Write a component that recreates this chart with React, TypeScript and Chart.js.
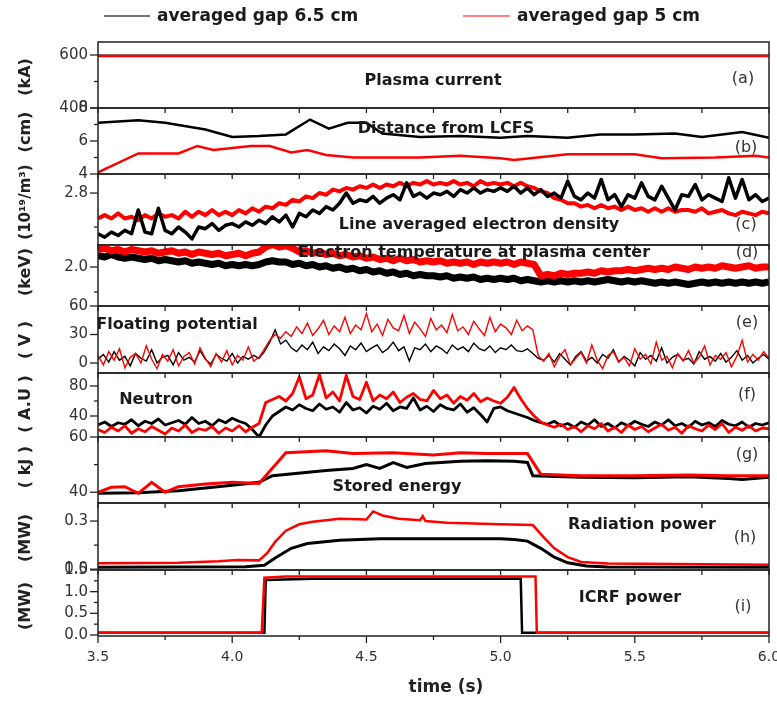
import React, { useEffect, useRef } from 'react';
import { Chart, registerables } from 'chart.js';

Chart.register(...registerables);

const FONT = '"DejaVu Sans", sans-serif';
const BLACK = '#000000';
const RED = '#ff0000';

// ---------- x axis ----------
const xMajor = [3.5, 4.0, 4.5, 5.0, 5.5, 6.0];
const xMajorLabels = ['3.5', '4.0', '4.5', '5.0', '5.5', '6.0'];
const xMinor = [3.75, 4.25, 4.75, 5.25, 5.75];
const xTitle = 'time (s)';

// sampling grids of the noisy traces
const T025 = Array.from({ length: 101 }, (_, i) => +(3.5 + i * 0.025).toFixed(3));
const T020 = Array.from({ length: 126 }, (_, i) => +(3.5 + i * 0.02).toFixed(3));

// ---------- legend ----------
const legendLabels = ['averaged gap 6.5 cm', 'averaged gap 5 cm'];

// ---------- (a) plasma current ----------
const aT = [3.5, 4.0, 4.5, 5.0, 5.5, 6.0];
const aBlack = [599, 599.5, 599, 599.5, 599, 599];
const aRed = [596, 596, 596, 596, 596, 596];

// ---------- (b) distance from LCFS ----------
const bBlackT = [3.5, 3.65, 3.75, 3.9, 4.0, 4.1, 4.2, 4.29, 4.36, 4.43, 4.5, 4.56, 4.7, 4.85, 5.0, 5.1, 5.25, 5.37, 5.5, 5.65, 5.75, 5.9, 6.0];
const bBlack = [7.1, 7.25, 7.1, 6.7, 6.25, 6.3, 6.4, 7.3, 6.75, 7.1, 7.1, 6.45, 6.25, 6.3, 6.2, 6.3, 6.2, 6.4, 6.4, 6.45, 6.25, 6.55, 6.2];
const bRedT = [3.5, 3.65, 3.8, 3.87, 3.93, 4.07, 4.14, 4.22, 4.28, 4.35, 4.45, 4.7, 4.85, 5.0, 5.05, 5.25, 5.5, 5.6, 5.8, 5.95, 6.0];
const bRed = [4.1, 5.25, 5.25, 5.7, 5.45, 5.7, 5.7, 5.3, 5.45, 5.15, 5.0, 5.0, 5.1, 4.95, 4.85, 5.2, 5.2, 4.95, 5.0, 5.1, 5.0];

// ---------- (c) line averaged density (on T025) ----------
const cRed = [
  2.65, 2.67, 2.65, 2.68, 2.65, 2.66, 2.64, 2.67, 2.65, 2.68,
  2.66, 2.67, 2.65, 2.69, 2.66, 2.69, 2.67, 2.70, 2.67, 2.69,
  2.67, 2.70, 2.68, 2.71, 2.69, 2.72, 2.71, 2.74, 2.73, 2.76,
  2.75, 2.78, 2.77, 2.80, 2.79, 2.82, 2.81, 2.83, 2.82, 2.84,
  2.83, 2.85, 2.83, 2.85, 2.84, 2.86, 2.84, 2.86, 2.85, 2.87,
  2.85, 2.86, 2.85, 2.87, 2.85, 2.86, 2.84, 2.87, 2.85, 2.86,
  2.85, 2.86, 2.84, 2.86, 2.84, 2.83, 2.81, 2.80, 2.77, 2.76,
  2.74, 2.74, 2.72, 2.73, 2.71, 2.73, 2.71, 2.72, 2.70, 2.72,
  2.70, 2.71, 2.69, 2.71, 2.69, 2.71, 2.69, 2.70, 2.70, 2.69,
  2.71, 2.68, 2.69, 2.70, 2.68, 2.67, 2.69, 2.68, 2.67, 2.69,
  2.68,
];
const cBlack = [
  2.56, 2.54, 2.57, 2.55, 2.58, 2.56, 2.70, 2.57, 2.56, 2.71,
  2.58, 2.56, 2.60, 2.57, 2.53, 2.60, 2.59, 2.62, 2.58, 2.61,
  2.62, 2.60, 2.63, 2.61, 2.64, 2.62, 2.66, 2.63, 2.67, 2.60,
  2.68, 2.66, 2.70, 2.68, 2.72, 2.70, 2.74, 2.80, 2.74, 2.76,
  2.75, 2.78, 2.74, 2.77, 2.79, 2.76, 2.86, 2.78, 2.80, 2.77,
  2.80, 2.79, 2.81, 2.78, 2.82, 2.80, 2.83, 2.80, 2.82, 2.81,
  2.83, 2.81, 2.84, 2.80, 2.83, 2.79, 2.82, 2.78, 2.80, 2.77,
  2.87, 2.78, 2.76, 2.80, 2.77, 2.88, 2.76, 2.79, 2.72, 2.79,
  2.77, 2.86, 2.78, 2.76, 2.84, 2.77, 2.70, 2.79, 2.78, 2.85,
  2.76, 2.79, 2.77, 2.75, 2.89, 2.77, 2.88, 2.76, 2.79, 2.75,
  2.77,
];

// ---------- (d) electron temperature (on T025) ----------
const dRed = [
  2.14, 2.15, 2.13, 2.14, 2.12, 2.14, 2.13, 2.12, 2.13, 2.11,
  2.12, 2.13, 2.11, 2.12, 2.10, 2.12, 2.11, 2.10, 2.11, 2.09,
  2.10, 2.11, 2.09, 2.11, 2.12, 2.16, 2.18, 2.16, 2.17, 2.15,
  2.12, 2.13, 2.11, 2.12, 2.10, 2.11, 2.09, 2.10, 2.08, 2.09,
  2.07, 2.08, 2.06, 2.07, 2.05, 2.07, 2.05, 2.06, 2.04, 2.05,
  2.04, 2.05, 2.03, 2.04, 2.03, 2.04, 2.02, 2.04, 2.03, 2.04,
  2.03, 2.04, 2.02, 2.04, 2.03, 2.02, 1.93, 1.94, 1.93, 1.95,
  1.94, 1.95, 1.95, 1.96, 1.95, 1.97, 1.96, 1.97, 1.97, 1.98,
  1.97, 1.98, 1.99, 1.98, 1.99, 1.98, 2.00, 1.99, 1.98, 2.00,
  1.99, 2.00, 1.99, 2.01, 2.00, 1.99, 2.00, 2.01, 1.99, 2.00,
  2.00,
];
const dBlack = [
  2.09, 2.08, 2.10, 2.08, 2.07, 2.08, 2.07, 2.06, 2.07, 2.05,
  2.06, 2.05, 2.04, 2.05, 2.03, 2.04, 2.03, 2.02, 2.03, 2.01,
  2.02, 2.01, 2.02, 2.01, 2.02, 2.04, 2.05, 2.04, 2.04, 2.02,
  2.03, 2.01, 2.02, 2.00, 2.01, 1.99, 2.00, 1.98, 1.99, 1.97,
  1.98, 1.96, 1.97, 1.95, 1.96, 1.94, 1.95, 1.93, 1.94, 1.93,
  1.93, 1.92, 1.93, 1.91, 1.92, 1.91, 1.92, 1.90, 1.91, 1.90,
  1.91, 1.90, 1.91, 1.89, 1.90, 1.89, 1.88, 1.89, 1.88, 1.89,
  1.88, 1.89, 1.88, 1.89, 1.88, 1.89, 1.90, 1.89, 1.88, 1.89,
  1.88, 1.89, 1.88, 1.87, 1.88, 1.87, 1.88, 1.87, 1.86, 1.87,
  1.88, 1.87, 1.88, 1.87, 1.88, 1.87, 1.88, 1.87, 1.88, 1.87,
  1.88,
];

// ---------- (e) floating potential (on T020) ----------
const eRed = [
  8, -2, 12, 3, 15, -5, 6, 10, 0, 18, 4, -6, 9, 2, 14, -3, 7, 11, -1, 16, 5, -4, 10, 1, 13, -2, 8, 3, 17, 2,
  6, 15, 24, 30, 26, 33,
  28, 38, 31, 42, 29, 36, 45, 30, 39, 33, 48, 31, 40, 35, 52, 33, 41, 29, 46, 37, 34, 50, 31, 43, 36, 28, 47, 35, 40, 32,
  51, 34, 38, 30, 44, 36, 29, 48, 33, 41, 37, 30, 45, 34, 39,
  35, 8,
  2, 10, -4, 7, 14, -2, 5, 11, 0, 19, 3, -6, 8, 12, 1, 6, -3, 15, 4, 9, -1, 22, 3, 7, -5, 10, 2, 13, 0, 6, 18, -2, 8, 4,
  11, -4, 7, 24, 1, 9, 3, 12, 5,
];
const eBlack = [
  4, 9, 1, 12, 3, 7, -3, 10, 5, 2, 14, 0, 6, 8, -2, 11, 3, 6, 1, 13, 4, -1, 9, 5, 2, 10, 0, 7, 4, 8,
  5, 12, 22, 35, 20, 24,
  16, 12, 19, 14, 22, 10, 17, 13, 20, 15, 8, 18, 14, 21, 12, 16, 19, 11, 15, 22, 13, 17, 2, 16, 14, 20, 12, 18, 15, 10,
  19, 14, 17, 12, 21, 15, 13, 18, 11, 16, 14, 19, 13, 12, 15,
  10, 5,
  3, 8, 1, 10, 4, -2, 7, 12, 2, 6, 0, 9, 5, 14, 1, 7, 3, -3, 11, 4, 8, 2, 16, 0, 6, 9, 3, 5, -1, 12, 4, 7, 2, 10,
  1, 6, 13, 3, 8, 0, 5, 9, 4,
];

// ---------- (f) neutron (on T025) ----------
const fRed = [
  22, 18, 25, 20, 27, 17, 23, 19, 26, 21,
  16, 24, 20, 28, 18, 23, 21, 26, 17, 24,
  20, 27, 19, 25, 30, 58, 62, 66, 60, 70,
  92, 63, 68, 95, 64, 72, 60, 94, 66, 62,
  85, 60, 68, 63, 72, 58, 65, 70, 62, 60,
  74, 63, 68, 57, 66, 61, 70, 59, 64, 60,
  57, 65, 78, 63, 50, 40, 32, 28, 25, 29,
  22, 26, 19, 27, 23, 30, 20, 25, 18, 28,
  22, 26, 19, 24, 29, 21, 25, 17, 27, 23,
  20, 28, 22, 30, 18, 25, 21, 27, 20, 24,
  23,
];
const fBlack = [
  28, 32, 26, 31, 29, 35, 27, 33, 30, 36,
  28, 31, 34, 29, 38, 30, 33, 27, 35, 31,
  37, 33, 30, 22, 12, 28, 40, 46, 52, 48,
  55, 50, 47, 56, 49, 52, 45, 58, 48, 51,
  44, 53, 49, 57, 47, 52, 50, 64, 48, 53,
  46, 55, 50, 48, 56, 45, 51, 42, 32, 50,
  52, 47, 44, 41, 38, 34, 31, 29, 33, 27,
  30, 25, 32, 28, 35, 26, 30, 24, 31, 27,
  33, 29, 26, 32, 28, 35, 27, 30, 25, 33,
  28, 31, 26, 34, 29, 27, 32, 25, 30, 28,
  31,
];

// ---------- (g) stored energy ----------
const gRedT = [3.5, 3.55, 3.6, 3.65, 3.7, 3.75, 3.8, 3.9, 4.0, 4.1, 4.2, 4.35, 4.45, 4.6, 4.75, 4.85, 4.95, 5.1, 5.15, 5.3, 5.5, 5.7, 5.85, 6.0];
const gRed = [40.0, 41.8, 42.0, 39.6, 43.6, 40.0, 42.0, 43.0, 43.6, 43.2, 54.3, 55.0, 54.0, 54.3, 53.5, 54.3, 54.0, 54.0, 46.5, 46.0, 46.0, 46.2, 46.0, 46.0];
const gBlackT = [3.5, 3.65, 3.8, 3.9, 4.0, 4.1, 4.15, 4.35, 4.45, 4.5, 4.55, 4.6, 4.65, 4.72, 4.85, 4.95, 5.05, 5.1, 5.12, 5.3, 5.5, 5.7, 5.85, 5.9, 6.0];
const gBlack = [39.6, 39.8, 40.5, 41.5, 42.5, 43.6, 46.0, 47.9, 48.6, 50.0, 48.6, 50.7, 49.0, 50.4, 51.2, 51.4, 51.2, 50.8, 46.0, 45.4, 45.2, 45.6, 45.0, 44.6, 45.4];

// ---------- (h) radiation power ----------
const hRedT = [3.5, 3.8, 3.95, 4.02, 4.1, 4.13, 4.16, 4.2, 4.25, 4.3, 4.4, 4.5, 4.525, 4.56, 4.62, 4.7, 4.71, 4.72, 4.8, 5.0, 5.12, 5.16, 5.2, 5.25, 5.3, 5.4, 6.0];
const hRed = [0.037, 0.04, 0.05, 0.058, 0.055, 0.1, 0.17, 0.24, 0.28, 0.295, 0.315, 0.31, 0.36, 0.335, 0.315, 0.305, 0.33, 0.3, 0.29, 0.28, 0.275, 0.2, 0.13, 0.075, 0.045, 0.035, 0.028];
const hBlackT = [3.5, 4.05, 4.12, 4.16, 4.22, 4.28, 4.4, 4.55, 5.0, 5.05, 5.1, 5.15, 5.2, 5.25, 5.32, 5.4, 6.0];
const hBlack = [0.012, 0.015, 0.025, 0.07, 0.13, 0.16, 0.18, 0.19, 0.19, 0.185, 0.175, 0.13, 0.075, 0.04, 0.02, 0.014, 0.012];

// ---------- (i) ICRF power ----------
const iRedT = [3.5, 4.11, 4.12, 4.2, 5.13, 5.135, 6.0];
const iRed = [0.05, 0.05, 1.32, 1.35, 1.35, 0.05, 0.05];
const iBlackT = [3.5, 4.12, 4.125, 4.3, 5.075, 5.08, 6.0];
const iBlack = [0.05, 0.05, 1.27, 1.3, 1.3, 0.05, 0.05];

type Series = { t: number[]; v: number[]; color: string; width: number; join?: CanvasLineJoin };
type Txt = { s: string; x: number; y: number; bold?: boolean };
type Panel = {
  top: number; bottom: number; min: number; max: number;
  major: number[]; majorLabels: string[]; minor: number[];
  title: string; titleY: number; titleSize?: number;
  texts: Txt[];
  series: Series[]; // first one is drawn on top
  first?: boolean; last?: boolean;
};

const panels: Panel[] = [
  {
    top: 42, bottom: 108, min: 400, max: 649.06,
    major: [400, 600], majorLabels: ['400', '600'], minor: [500],
    title: '(kA)', titleY: 77,
    texts: [{ s: 'Plasma current', x: 433, y: 81, bold: true }, { s: '(a)', x: 743, y: 79 }],
    series: [
      { t: aT, v: aRed, color: RED, width: 2.5 },
      { t: aT, v: aBlack, color: BLACK, width: 1.5 },
    ],
    first: true,
  },
  {
    top: 108, bottom: 174, min: 4, max: 8,
    major: [4, 6, 8], majorLabels: ['4', '6', '8'], minor: [5, 7],
    title: '(cm)', titleY: 132,
    texts: [{ s: 'Distance from LCFS', x: 446, y: 129, bold: true }, { s: '(b)', x: 746, y: 148 }],
    series: [
      { t: bBlackT, v: bBlack, color: BLACK, width: 2.5 },
      { t: bRedT, v: bRed, color: RED, width: 2.5 },
    ],
  },
  {
    top: 174, bottom: 245, min: 2.494, max: 2.912,
    major: [2.8], majorLabels: ['2.8'], minor: [2.6],
    title: '(10¹⁹/m³)', titleY: 202, titleSize: 15,
    texts: [{ s: 'Line averaged electron density', x: 479, y: 225, bold: true }, { s: '(c)', x: 746, y: 225 }],
    series: [
      { t: T025, v: cBlack, color: BLACK, width: 3.5, join: 'round' },
      { t: T025, v: cRed, color: RED, width: 4, join: 'round' },
    ],
  },
  {
    top: 245, bottom: 306, min: 1.688, max: 2.176,
    major: [2.0], majorLabels: ['2.0'], minor: [1.8],
    title: '(keV)', titleY: 272,
    texts: [{ s: 'Electron temperature at plasma center', x: 474, y: 253, bold: true }, { s: '(d)', x: 747, y: 253 }],
    series: [
      { t: T025, v: dRed, color: RED, width: 7, join: 'round' },
      { t: T025, v: dBlack, color: BLACK, width: 7, join: 'round' },
    ],
  },
  {
    top: 306, bottom: 373, min: -10.5, max: 60,
    major: [0, 30, 60], majorLabels: ['0', '30', '60'], minor: [],
    title: '( V )', titleY: 340,
    texts: [{ s: 'Floating potential', x: 177, y: 325, bold: true }, { s: '(e)', x: 747, y: 323 }],
    series: [
      { t: T020, v: eRed, color: RED, width: 1.4 },
      { t: T020, v: eBlack, color: BLACK, width: 1.4 },
    ],
  },
  {
    top: 373, bottom: 437, min: 12, max: 97.3,
    major: [40, 80], majorLabels: ['40', '80'], minor: [60],
    title: '( A.U )', titleY: 404,
    texts: [{ s: 'Neutron', x: 156, y: 400, bold: true }, { s: '(f)', x: 747, y: 395 }],
    series: [
      { t: T025, v: fRed, color: RED, width: 2.8, join: 'round' },
      { t: T025, v: fBlack, color: BLACK, width: 2.8, join: 'round' },
    ],
  },
  {
    top: 437, bottom: 503, min: 36.1, max: 60,
    major: [40, 60], majorLabels: ['40', '60'], minor: [50],
    title: '( kJ )', titleY: 467,
    texts: [{ s: 'Stored energy', x: 397, y: 487, bold: true }, { s: '(g)', x: 747, y: 455 }],
    series: [
      { t: gRedT, v: gRed, color: RED, width: 3 },
      { t: gBlackT, v: gBlack, color: BLACK, width: 3 },
    ],
  },
  {
    top: 503, bottom: 570, min: -0.005, max: 0.4125,
    major: [0, 0.3], majorLabels: ['0.0', '0.3'], minor: [0.15],
    title: '(MW)', titleY: 538,
    texts: [{ s: 'Radiation power', x: 642, y: 525, bold: true }, { s: '(h)', x: 745, y: 538 }],
    series: [
      { t: hRedT, v: hRed, color: RED, width: 2.5 },
      { t: hBlackT, v: hBlack, color: BLACK, width: 3 },
    ],
  },
  {
    top: 570, bottom: 636, min: -0.023, max: 1.5,
    major: [0, 0.5, 1.0, 1.5], majorLabels: ['0.0', '0.5', '1.0', '1.5'], minor: [0.25, 0.75, 1.25],
    title: '(MW)', titleY: 606,
    texts: [{ s: 'ICRF power', x: 630, y: 598, bold: true }, { s: '(i)', x: 743, y: 607 }],
    series: [
      { t: iRedT, v: iRed, color: RED, width: 2.5 },
      { t: iBlackT, v: iBlack, color: BLACK, width: 2.5 },
    ],
    last: true,
  },
];

function geometry(p: Panel) {
  const padTop = p.first ? p.top : 40;
  const padBottom = p.last ? 701 - p.bottom : 40;
  const cTop = p.top - padTop;
  const height = padTop + (p.bottom - p.top) + padBottom;
  return { padTop, padBottom, cTop, height };
}

function makeDeco(p: Panel, cTop: number) {
  return {
    id: 'panelDeco',
    afterDraw(chart: any) {
      const { ctx, chartArea: ca } = chart;
      const xs = chart.scales.x;
      const ys = chart.scales.y;
      ctx.save();
      // frame
      ctx.strokeStyle = '#222';
      ctx.lineWidth = 1.5;
      ctx.strokeRect(ca.left, ca.top, ca.right - ca.left, ca.bottom - ca.top);

      // x ticks pointing into the panel from its top edge
      ctx.lineWidth = 1.3;
      if (!p.first) {
        [...xMajor, ...xMinor].forEach((t) => {
          const px = xs.getPixelForValue(t);
          ctx.beginPath();
          ctx.moveTo(px, ca.top);
          ctx.lineTo(px, ca.top + 5);
          ctx.stroke();
        });
      }
      // bottom axis
      if (p.last) {
        xMajor.forEach((t) => {
          const px = xs.getPixelForValue(t);
          ctx.beginPath();
          ctx.moveTo(px, ca.bottom);
          ctx.lineTo(px, ca.bottom + 7);
          ctx.stroke();
        });
        xMinor.forEach((t) => {
          const px = xs.getPixelForValue(t);
          ctx.beginPath();
          ctx.moveTo(px, ca.bottom);
          ctx.lineTo(px, ca.bottom + 4);
          ctx.stroke();
        });
        ctx.fillStyle = '#333';
        ctx.font = `14px ${FONT}`;
        ctx.textAlign = 'center';
        ctx.textBaseline = 'middle';
        xMajor.forEach((t, k) => {
          ctx.fillText(xMajorLabels[k], xs.getPixelForValue(t), 657 - cTop);
        });
        ctx.fillStyle = '#222';
        ctx.font = `bold 17px ${FONT}`;
        ctx.fillText(xTitle, 446, 688 - cTop);
      }

      // y ticks (outward, left)
      p.major.forEach((v) => {
        const py = ys.getPixelForValue(v);
        ctx.beginPath();
        ctx.moveTo(ca.left - 8, py);
        ctx.lineTo(ca.left, py);
        ctx.stroke();
      });
      p.minor.forEach((v) => {
        const py = ys.getPixelForValue(v);
        ctx.beginPath();
        ctx.moveTo(ca.left - 4, py);
        ctx.lineTo(ca.left, py);
        ctx.stroke();
      });
      ctx.fillStyle = '#333';
      ctx.font = `15px ${FONT}`;
      ctx.textAlign = 'right';
      ctx.textBaseline = 'middle';
      p.major.forEach((v, k) => {
        ctx.fillText(p.majorLabels[k], ca.left - 10, ys.getPixelForValue(v));
      });

      // y title
      ctx.save();
      ctx.translate(26, p.titleY - cTop);
      ctx.rotate(-Math.PI / 2);
      ctx.fillStyle = '#222';
      ctx.font = `bold ${p.titleSize || 16}px ${FONT}`;
      ctx.textAlign = 'center';
      ctx.textBaseline = 'middle';
      ctx.fillText(p.title, 0, 0);
      ctx.restore();

      // annotations
      ctx.textAlign = 'center';
      ctx.textBaseline = 'middle';
      p.texts.forEach((tx) => {
        ctx.fillStyle = tx.bold ? '#1a1a1a' : '#333';
        ctx.font = `${tx.bold ? 'bold ' : ''}16px ${FONT}`;
        ctx.fillText(tx.s, tx.x, tx.y - cTop);
      });

      // legend
      if (p.first) {
        const entries = [
          { label: legendLabels[0], color: '#444', x1: 104, x2: 150, tx: 157 },
          { label: legendLabels[1], color: '#ff5a5a', x1: 463, x2: 510, tx: 517 },
        ];
        entries.forEach((e) => {
          ctx.strokeStyle = e.color;
          ctx.lineWidth = 1.5;
          ctx.beginPath();
          ctx.moveTo(e.x1, 16);
          ctx.lineTo(e.x2, 16);
          ctx.stroke();
          ctx.fillStyle = '#1a1a1a';
          ctx.font = `bold 17px ${FONT}`;
          ctx.textAlign = 'left';
          ctx.textBaseline = 'middle';
          ctx.fillText(e.label, e.tx, 17);
        });
      }
      ctx.restore();
    },
  };
}

function PanelChart({ p }: { p: Panel }) {
  const ref = useRef<HTMLCanvasElement>(null);
  const g = geometry(p);
  useEffect(() => {
    if (!ref.current) return;
    const chart = new Chart(ref.current, {
      type: 'line',
      data: {
        datasets: p.series.map((s, i) => ({
          data: s.t.map((x, j) => ({ x, y: s.v[j] })),
          borderColor: s.color,
          backgroundColor: s.color,
          borderWidth: s.width,
          borderJoinStyle: s.join || 'miter',
          pointRadius: 0,
          tension: 0,
          fill: false,
          clip: 0,
          order: i,
        })),
      },
      options: {
        responsive: false,
        maintainAspectRatio: false,
        animation: false,
        devicePixelRatio: 1,
        events: [],
        layout: { padding: { left: 98, right: 8, top: g.padTop, bottom: g.padBottom } },
        plugins: { legend: { display: false }, tooltip: { enabled: false } },
        scales: {
          x: { type: 'linear', min: 3.5, max: 6.0, display: false },
          y: { type: 'linear', min: p.min, max: p.max, display: false },
        },
      } as any,
      plugins: [makeDeco(p, g.cTop)],
    });
    return () => chart.destroy();
  }, []);
  return (
    <canvas
      ref={ref}
      width={777}
      height={g.height}
      style={{ position: 'absolute', left: 0, top: g.cTop, width: 777, height: g.height }}
    />
  );
}

export default function App() {
  return (
    <div style={{ position: 'absolute', left: 0, top: 0, width: 777, height: 701, background: '#fff', overflow: 'hidden' }}>
      {panels.map((p, i) => (
        <PanelChart key={i} p={p} />
      ))}
    </div>
  );
}
